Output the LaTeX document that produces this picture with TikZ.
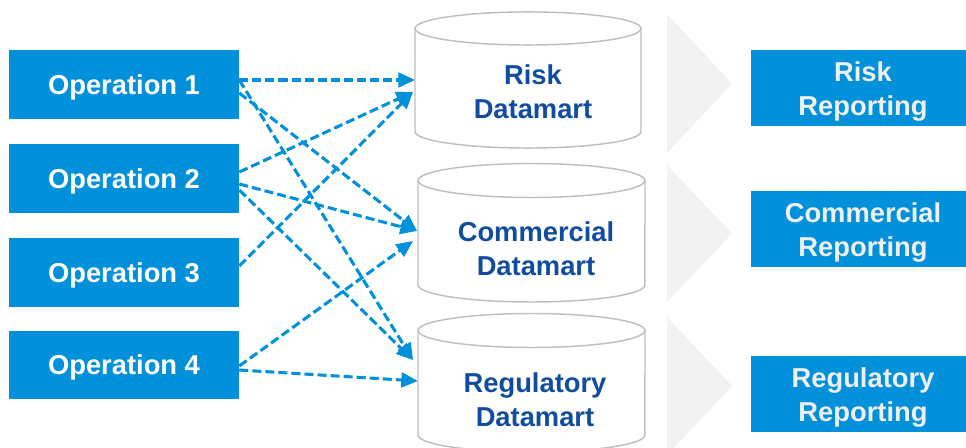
\documentclass[tikz,border=0pt]{standalone}
\usepackage{fontspec}
\setmainfont{Liberation Sans}
\usetikzlibrary{arrows.meta,calc}
\definecolor{kblue}{HTML}{0091DA}
\definecolor{kdark}{RGB}{16,76,160}
\definecolor{cylline}{HTML}{BFBFBF}
\definecolor{chevgrey}{HTML}{F2F2F2}
\definecolor{reptext}{HTML}{F0F0F0}
\begin{document}
\begin{tikzpicture}[x=0.75pt,y=-0.75pt,
  labelfont/.style={font=\bfseries\fontsize{20.5}{25.5}\selectfont},
  opbox/.style={fill=kblue, text=white, labelfont, minimum width=172.5pt,
    minimum height=51.75pt, inner sep=0pt, text depth=0pt},
  repbox/.style={fill=kblue, minimum width=168pt, minimum height=57pt, inner sep=0pt},
  replabel/.style={text=reptext, labelfont, align=center, inner sep=0pt},
  dmlabel/.style={text=kdark, labelfont, align=center, inner sep=0pt},
  cylbody/.style={draw=cylline, line width=1.1pt, fill=white},
  chevron/.style={fill=chevgrey, draw=none},
  flow/.style={draw=kblue, line width=2.3pt, dash pattern=on 6.8pt off 3pt,
    -{Triangle[length=12.5pt,width=11pt]}}
]
\clip (0,0) rectangle (966,448);

% grey chevrons between the datamarts and the reports
\path[chevron] (667,14)  -- (732,83.5) -- (667,153) -- cycle;
\path[chevron] (667,165) -- (732,233.5) -- (667,302) -- cycle;
\path[chevron] (667,317) -- (732,386) -- (667,455) -- cycle;

% datamart cylinders
\filldraw[cylbody] (415,28.5) -- (415,131.5)
  arc[start angle=180,end angle=360,x radius=84.75pt,y radius=12.4pt] -- (641,28.5);
\filldraw[cylbody] (528,28.5) ellipse[x radius=84.75pt,y radius=12.4pt];
\filldraw[cylbody] (418,180.5) -- (418,285)
  arc[start angle=180,end angle=360,x radius=85.1pt,y radius=12.75pt] -- (645,180.5);
\filldraw[cylbody] (531.5,180.5) ellipse[x radius=85.1pt,y radius=12.75pt];
\filldraw[cylbody] (418,330.5) -- (418,435)
  arc[start angle=180,end angle=360,x radius=85.1pt,y radius=12.75pt] -- (645,330.5);
\filldraw[cylbody] (531.5,330.5) ellipse[x radius=85.1pt,y radius=12.75pt];

\node[dmlabel] (dmrisk) at (533,92)  {Risk\\Datamart};
\node[dmlabel] (dmcom)  at (536,249) {Commercial\\Datamart};
\node[dmlabel] (dmreg)  at (535,400) {Regulatory\\Datamart};

% operation boxes
\node[opbox] (op1) at (124,84.5)  {Operation 1};
\node[opbox] (op2) at (124,178.5) {Operation 2};
\node[opbox] (op3) at (124,272.5) {Operation 3};
\node[opbox, minimum height=51pt] (op4) at (124,365) {Operation 4};

% reporting boxes and their labels
\node[repbox] (reprisk) at (863,88)  {};
\node[repbox] (repcom)  at (863,229) {};
\node[repbox] (repreg)  at (863,394) {};
\node[replabel] (lrisk) at ($(reprisk.center)+(0,3.5)$) {Risk\\Reporting};
\node[replabel] (lcom)  at ($(repcom.center)+(0,3)$)   {Commercial\\Reporting};
\node[replabel] (lreg)  at ($(repreg.center)+(0,3)$)   {Regulatory\\Reporting};

% arrow targets on the datamart walls
\coordinate (rk1) at (415,80);
\coordinate (rk2) at (413,92);
\coordinate (cm1) at (417,231);
\coordinate (cm2) at (413,241);
\coordinate (rg1) at (413,360);
\coordinate (rg2) at (418,381);

% data flows
\draw[flow] ($(op1.east)+(0,-4.5)$) -- (rk1);
\draw[flow] ($(op1.east)+(0,8.5)$)  -- (cm1);
\draw[flow] ($(op1.east)+(0,-4.5)$) -- (rg1);
\draw[flow] ($(op2.east)+(0,-6.5)$) -- (rk2);
\draw[flow] ($(op2.east)+(0,5.5)$)  -- (cm1);
\draw[flow] ($(op2.east)+(0,11.5)$) -- (rg1);
\draw[flow] ($(op3.east)+(0,-6.5)$) -- (rk2);
\draw[flow] ($(op4.east)+(0,1)$)    -- (cm2);
\draw[flow] ($(op4.east)+(0,5)$)    -- (rg2);
\end{tikzpicture}
\end{document}
